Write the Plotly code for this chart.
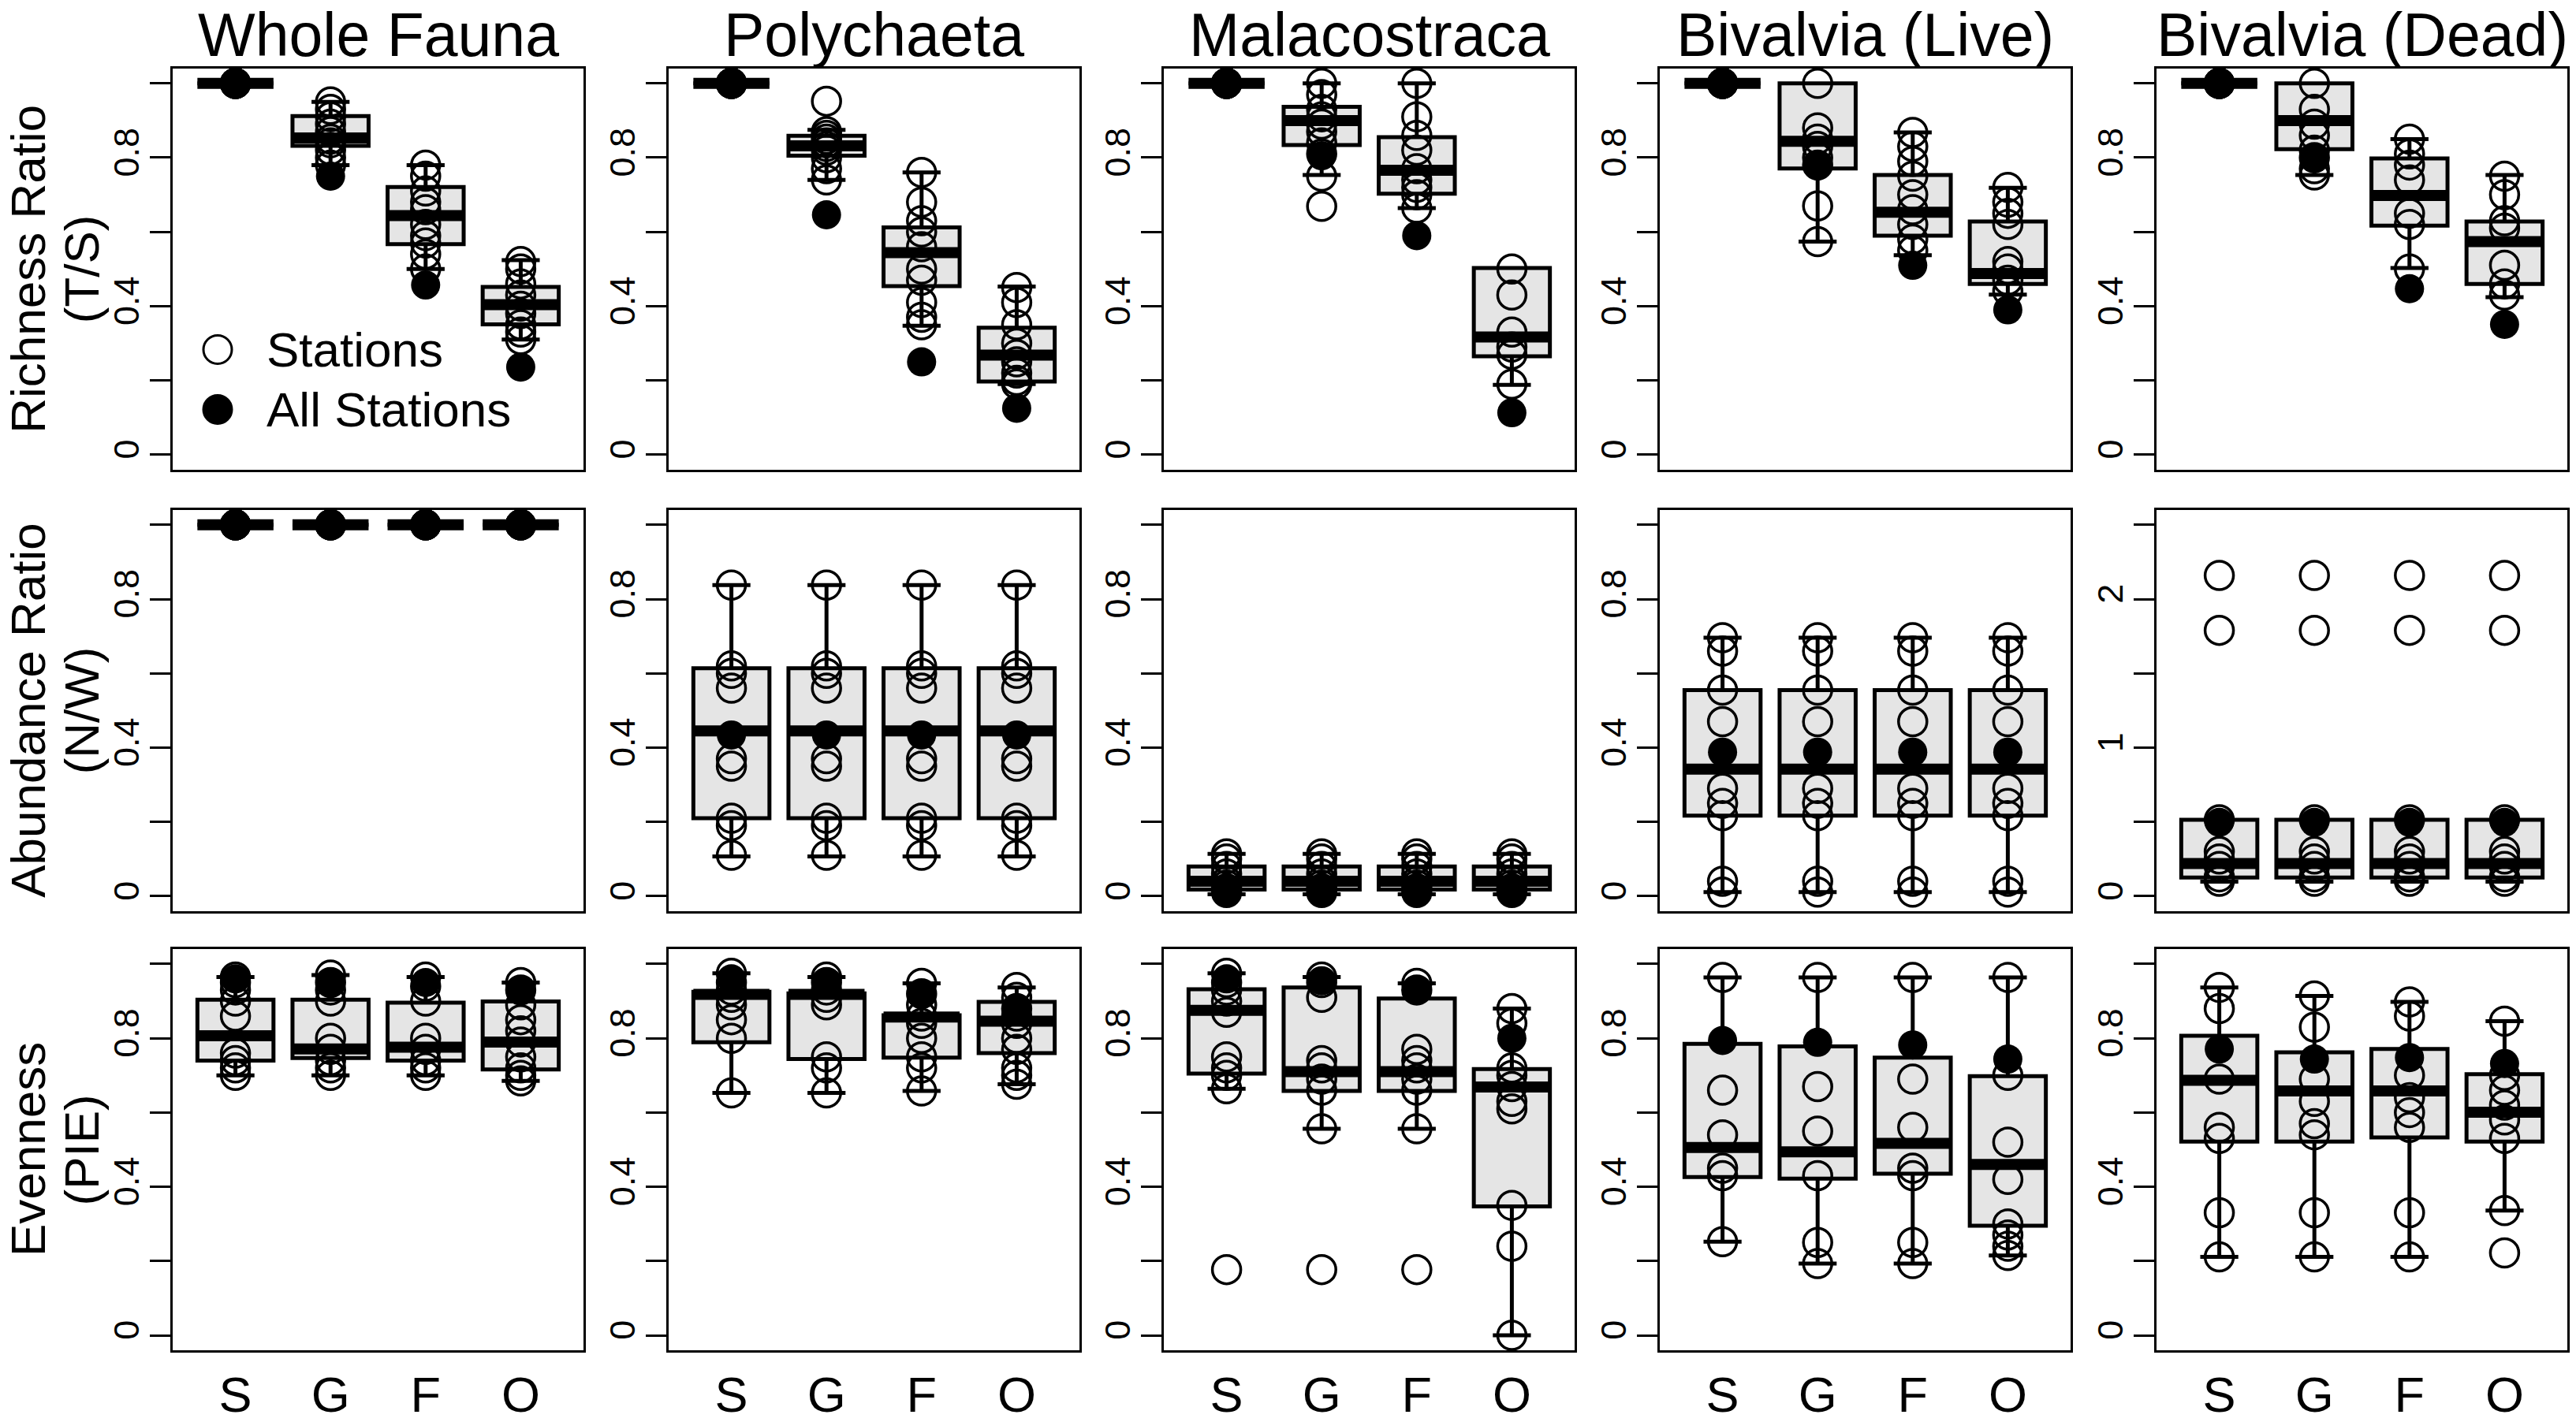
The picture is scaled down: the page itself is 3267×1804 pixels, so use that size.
import plotly.graph_objects as go
from plotly.subplots import make_subplots

W, H = 3267, 1804
FONT = "Liberation Sans, Arial, sans-serif"

GROUPS = ["Whole Fauna", "Polychaeta", "Malacostraca", "Bivalvia (Live)", "Bivalvia (Dead)"]
CATS = ["S", "G", "F", "O"]

# ---------------- Richness ratio (T/S) ----------------
rich_lo = [[1.0, 0.78, 0.50, 0.31],
           [1.0, 0.74, 0.347, 0.19],
           [1.0, 0.753, 0.664, 0.188],
           [1.0, 0.574, 0.537, 0.431],
           [1.0, 0.753, 0.503, 0.424]]
rich_q1 = [[1.0, 0.832, 0.567, 0.351],
           [1.0, 0.805, 0.454, 0.197],
           [1.0, 0.834, 0.703, 0.265],
           [1.0, 0.771, 0.59, 0.46],
           [1.0, 0.823, 0.617, 0.46]]
rich_med = [[1.0, 0.853, 0.644, 0.404],
            [1.0, 0.832, 0.544, 0.268],
            [1.0, 0.90, 0.766, 0.317],
            [1.0, 0.844, 0.653, 0.488],
            [1.0, 0.90, 0.698, 0.574]]
rich_q3 = [[1.0, 0.912, 0.721, 0.452],
           [1.0, 0.859, 0.612, 0.342],
           [1.0, 0.937, 0.855, 0.503],
           [1.0, 1.0, 0.753, 0.628],
           [1.0, 1.0, 0.798, 0.628]]
rich_hi = [[1.0, 0.95, 0.78, 0.524],
           [1.0, 0.875, 0.76, 0.453],
           [1.0, 1.0, 1.0, 0.503],
           [1.0, 1.0, 0.868, 0.719],
           [1.0, 1.0, 0.85, 0.753]]
rich_all = [[1.0, 0.75, 0.457, 0.236],
            [1.0, 0.646, 0.25, 0.125],
            [1.0, 0.805, 0.59, 0.113],
            [1.0, 0.78, 0.51, 0.39],
            [1.0, 0.80, 0.447, 0.351]]
rich_pts = [
    [[1.0, 1.0, 1.0, 1.0, 1.0],
     [0.95, 0.93, 0.91, 0.89, 0.87, 0.85, 0.84, 0.82, 0.80, 0.78],
     [0.78, 0.75, 0.71, 0.68, 0.66, 0.62, 0.59, 0.57, 0.54, 0.50],
     [0.52, 0.50, 0.46, 0.43, 0.40, 0.38, 0.35, 0.33, 0.31]],
    [[1.0, 1.0, 1.0, 1.0, 1.0],
     [0.952, 0.87, 0.86, 0.85, 0.84, 0.83, 0.82, 0.80, 0.77, 0.74],
     [0.76, 0.68, 0.63, 0.60, 0.56, 0.50, 0.47, 0.41, 0.37, 0.35],
     [0.45, 0.41, 0.35, 0.30, 0.27, 0.25, 0.22, 0.20, 0.19]],
    [[1.0, 1.0, 1.0, 1.0, 1.0],
     [1.0, 0.97, 0.93, 0.91, 0.89, 0.87, 0.84, 0.81, 0.75, 0.669],
     [1.0, 0.91, 0.86, 0.82, 0.77, 0.74, 0.72, 0.70, 0.664],
     [0.50, 0.43, 0.33, 0.29, 0.27, 0.19]],
    [[1.0, 1.0, 1.0, 1.0, 1.0],
     [1.0, 0.88, 0.85, 0.83, 0.80, 0.78, 0.67, 0.574],
     [0.868, 0.83, 0.79, 0.75, 0.70, 0.66, 0.62, 0.58, 0.55],
     [0.72, 0.68, 0.65, 0.62, 0.52, 0.50, 0.47, 0.44]],
    [[1.0, 1.0, 1.0, 1.0, 1.0],
     [1.0, 0.93, 0.89, 0.86, 0.82, 0.80, 0.77, 0.753],
     [0.85, 0.81, 0.78, 0.74, 0.65, 0.62, 0.50],
     [0.75, 0.70, 0.63, 0.61, 0.51, 0.46, 0.43]],
]

# ---------------- Abundance ratio (N/W) ----------------
abun_lo = [[1.0] * 4, [0.107] * 4, [0.005] * 4, [0.011] * 4, [0.097] * 4]
abun_q1 = [[1.0] * 4, [0.21] * 4, [0.018] * 4, [0.217] * 4, [0.126] * 4]
abun_med = [[1.0] * 4, [0.445] * 4, [0.04] * 4, [0.342] * 4, [0.22] * 4]
abun_q3 = [[1.0] * 4, [0.614] * 4, [0.08] * 4, [0.555] * 4, [0.514] * 4]
abun_hi = [[1.0] * 4, [0.838] * 4, [0.114] * 4, [0.696] * 4, [0.514] * 4]
abun_all = [[1.0] * 4, [0.434] * 4, [0.01] * 4, [0.388] * 4, [0.497] * 4]
abun_whole = [1.0, 1.0, 1.0, 1.0, 1.0]
abun_poly = [0.838, 0.62, 0.60, 0.56, 0.37, 0.35, 0.21, 0.19, 0.11]
abun_mala = [0.114, 0.10, 0.08, 0.06, 0.04, 0.03, 0.02, 0.01]
abun_bivl = [0.696, 0.66, 0.555, 0.47, 0.29, 0.25, 0.217, 0.04, 0.011]
abun_bivd = [2.16, 1.79, 0.514, 0.30, 0.25, 0.20, 0.13, 0.10]
abun_pts = [[s] * 4 for s in (abun_whole, abun_poly, abun_mala, abun_bivl, abun_bivd)]

# ---------------- Evenness (PIE) ----------------
even_lo = [[0.70, 0.70, 0.70, 0.685],
           [0.653, 0.653, 0.658, 0.676],
           [0.664, 0.556, 0.556, 0.0],
           [0.252, 0.193, 0.193, 0.215],
           [0.211, 0.211, 0.211, 0.336]]
even_q1 = [[0.74, 0.747, 0.74, 0.716],
           [0.789, 0.744, 0.748, 0.76],
           [0.705, 0.658, 0.658, 0.347],
           [0.426, 0.422, 0.435, 0.295],
           [0.522, 0.522, 0.533, 0.522]]
even_med = [[0.807, 0.771, 0.776, 0.79],
            [0.918, 0.918, 0.857, 0.846],
            [0.875, 0.71, 0.71, 0.669],
            [0.506, 0.494, 0.517, 0.46],
            [0.687, 0.658, 0.658, 0.601]]
even_q3 = [[0.904, 0.904, 0.896, 0.899],
           [0.925, 0.921, 0.862, 0.898],
           [0.932, 0.937, 0.907, 0.717],
           [0.785, 0.778, 0.748, 0.698],
           [0.807, 0.762, 0.771, 0.703]]
even_hi = [[0.965, 0.97, 0.965, 0.95],
           [0.975, 0.965, 0.948, 0.937],
           [0.975, 0.965, 0.948, 0.88],
           [0.964, 0.964, 0.964, 0.964],
           [0.937, 0.914, 0.898, 0.846]]
even_all = [[0.96, 0.95, 0.95, 0.93],
            [0.96, 0.948, 0.918, 0.88],
            [0.96, 0.955, 0.93, 0.80],
            [0.794, 0.789, 0.782, 0.744],
            [0.771, 0.744, 0.748, 0.732]]
even_pts = [
    [[0.965, 0.95, 0.93, 0.90, 0.86, 0.76, 0.74, 0.72, 0.70],
     [0.97, 0.95, 0.93, 0.90, 0.80, 0.77, 0.74, 0.72, 0.70],
     [0.965, 0.94, 0.90, 0.80, 0.77, 0.74, 0.72, 0.70],
     [0.95, 0.93, 0.89, 0.85, 0.82, 0.79, 0.75, 0.72, 0.70, 0.685]],
    [[0.975, 0.95, 0.93, 0.91, 0.89, 0.85, 0.80, 0.653],
     [0.965, 0.95, 0.93, 0.91, 0.89, 0.75, 0.72, 0.653],
     [0.948, 0.92, 0.89, 0.86, 0.84, 0.80, 0.75, 0.72, 0.658],
     [0.937, 0.91, 0.88, 0.86, 0.84, 0.80, 0.77, 0.72, 0.70, 0.676]],
    [[0.975, 0.95, 0.93, 0.90, 0.87, 0.75, 0.72, 0.70, 0.664, 0.177],
     [0.965, 0.95, 0.91, 0.74, 0.72, 0.69, 0.66, 0.556, 0.177],
     [0.948, 0.93, 0.77, 0.74, 0.72, 0.69, 0.66, 0.556, 0.177],
     [0.88, 0.84, 0.72, 0.70, 0.67, 0.63, 0.61, 0.35, 0.24, 0.0]],
    [[0.964, 0.66, 0.54, 0.45, 0.43, 0.252],
     [0.964, 0.67, 0.55, 0.43, 0.25, 0.193],
     [0.964, 0.69, 0.56, 0.45, 0.43, 0.25, 0.193],
     [0.964, 0.70, 0.52, 0.42, 0.30, 0.27, 0.24, 0.215]],
    [[0.937, 0.88, 0.69, 0.56, 0.53, 0.33, 0.211],
     [0.914, 0.83, 0.69, 0.63, 0.57, 0.54, 0.33, 0.211],
     [0.898, 0.86, 0.70, 0.64, 0.60, 0.56, 0.33, 0.211],
     [0.846, 0.70, 0.66, 0.62, 0.58, 0.53, 0.336, 0.222]],
]

ROWS = [
    (("Richness Ratio", "(T/S)"), rich_lo, rich_q1, rich_med, rich_q3, rich_hi, rich_all, rich_pts),
    (("Abundance Ratio", "(N/W)"), abun_lo, abun_q1, abun_med, abun_q3, abun_hi, abun_all, abun_pts),
    (("Evenness", "(PIE)"), even_lo, even_q1, even_med, even_q3, even_hi, even_all, even_pts),
]

# ---------------- layout geometry (pixels) ----------------
COL_LEFT = [219, 848, 1476, 2105, 2735]
PANEL_W = 521
ROW_TOP = [88, 655, 1219]
PANEL_H = 515
X_RANGE = [-0.66, 3.66]
BOX_W = 0.8
BOX_FILL = "#E5E5E5"

px_per_unit = PANEL_W / (X_RANGE[1] - X_RANGE[0])
med_size = BOX_W * px_per_unit / 1.4   # line-ew spans 1.4 * size

fig = make_subplots(rows=3, cols=5)

for r, (label, lo, q1, med, q3, hi, allst, pts) in enumerate(ROWS, start=1):
    for c in range(1, 6):
        g = c - 1
        fig.add_trace(go.Box(
            x=CATS, q1=q1[g], median=med[g], q3=q3[g],
            lowerfence=lo[g], upperfence=hi[g],
            width=BOX_W, whiskerwidth=0.5, fillcolor=BOX_FILL,
            line=dict(color="black", width=5), boxpoints=False,
            hoverinfo="skip", showlegend=False), row=r, col=c)
        fig.add_trace(go.Scatter(
            x=CATS, y=med[g], mode="markers", cliponaxis=False,
            marker=dict(symbol="line-ew", size=med_size,
                        line=dict(color="black", width=14)),
            hoverinfo="skip", showlegend=False), row=r, col=c)
        xs = [cat for cat, vals in zip(CATS, pts[g]) for v in vals]
        ys = [v for vals in pts[g] for v in vals]
        fig.add_trace(go.Scatter(
            x=xs, y=ys, mode="markers", cliponaxis=False,
            marker=dict(symbol="circle-open", size=36, color="black",
                        line=dict(width=3.5, color="black")),
            showlegend=False), row=r, col=c)
        fig.add_trace(go.Scatter(
            x=CATS, y=allst[g], mode="markers", cliponaxis=False,
            marker=dict(symbol="circle", size=37, color="black"),
            showlegend=False), row=r, col=c)

        big = (r == 2 and c == 5)
        if big:
            tv = [0, 0.5, 1, 1.5, 2, 2.5]
            tt = ["0", "", "1", "", "2", ""]
            yr = [-0.1, 2.6]
        else:
            tv = [0, 0.2, 0.4, 0.6, 0.8, 1.0]
            tt = ["0", "", "0.4", "", "0.8", ""]
            yr = [-0.04, 1.04]

        x0 = COL_LEFT[g] / W
        y_top = ROW_TOP[r - 1]
        fig.update_xaxes(
            domain=[x0, x0 + PANEL_W / W], range=X_RANGE,
            categoryorder="array", categoryarray=CATS,
            showline=True, mirror=True, linecolor="black", linewidth=3,
            showgrid=False, zeroline=False, ticks="",
            showticklabels=(r == 3), ticklabelstandoff=0,
            tickfont=dict(family=FONT, size=63, color="black"),
            row=r, col=c)
        fig.update_yaxes(
            domain=[1 - (y_top + PANEL_H) / H, 1 - y_top / H], range=yr,
            tickvals=tv, ticktext=tt, tickangle=-90,
            showline=True, mirror=True, linecolor="black", linewidth=3,
            showgrid=False, zeroline=False,
            ticks="outside", ticklen=26, tickwidth=3, tickcolor="black",
            ticklabelstandoff=-4,
            tickfont=dict(family=FONT, size=45, color="black"),
            row=r, col=c)

annotations = []
for g, name in enumerate(GROUPS):
    annotations.append(dict(
        text=name, x=(COL_LEFT[g] + PANEL_W / 2) / W, y=1,
        xref="paper", yref="paper", xanchor="center", yanchor="top",
        borderpad=0, showarrow=False,
        font=dict(family=FONT, size=77, color="black")))

for r, row in enumerate(ROWS):
    yc = 1 - (ROW_TOP[r] + PANEL_H / 2) / H
    first, second = row[0]
    annotations.append(dict(
        text=first, x=0, y=yc, xref="paper", yref="paper",
        xanchor="left", yanchor="middle", textangle=-90, borderpad=0,
        showarrow=False, font=dict(family=FONT, size=62, color="black")))
    annotations.append(dict(
        text=second, x=103 / W, y=yc, xref="paper", yref="paper",
        xanchor="center", yanchor="middle", textangle=-90,
        showarrow=False, font=dict(family=FONT, size=62, color="black")))

# legend inside the first panel
LEG_X = 276
LEG_ROWS = [("Stations", 449, "rgba(0,0,0,0)"), ("All Stations", 526, "black")]
shapes = []
for text, ypix, fill in LEG_ROWS:
    shapes.append(dict(
        type="circle", xref="paper", yref="paper",
        xsizemode="pixel", ysizemode="pixel",
        xanchor=LEG_X / W, yanchor=1 - ypix / H,
        x0=-18, x1=18, y0=-18, y1=18,
        line=dict(color="black", width=3), fillcolor=fill))
    annotations.append(dict(
        text=text, x=336 / W, y=1 - ypix / H, xref="paper", yref="paper",
        xanchor="left", yanchor="middle", showarrow=False,
        font=dict(family=FONT, size=62, color="black")))

fig.update_layout(
    width=W, height=H,
    margin=dict(l=0, r=0, t=0, b=0),
    paper_bgcolor="white", plot_bgcolor="white",
    showlegend=False,
    annotations=annotations, shapes=shapes,
    font=dict(family=FONT, color="black"),
)

# the page's default body margin would push the figure past the window edge
fig.write_html("out.html",
               config={"displayModeBar": False},
               post_script="document.body.style.margin='0';"
                           "document.body.style.overflow='hidden';")
